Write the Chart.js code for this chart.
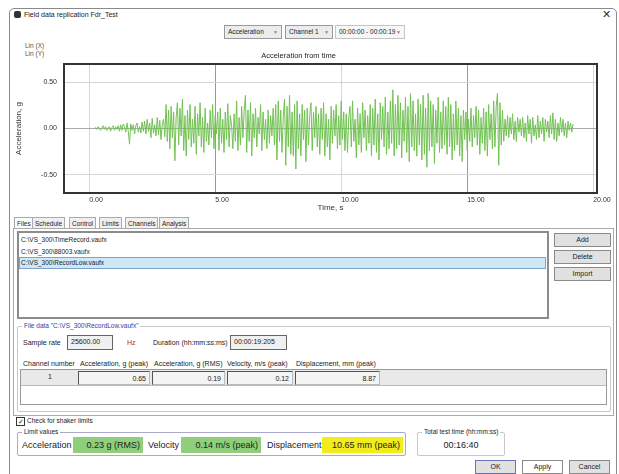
<!DOCTYPE html>
<html>
<head>
<meta charset="utf-8">
<script src="https://cdn.jsdelivr.net/npm/chart.js@4"></script>
<style>
  body { margin: 0; background: #fff; font-family: "Liberation Sans", Arial, sans-serif; font-size: 7px; color: #222; }
  #page { position: relative; width: 619px; height: 474px; overflow: hidden; }
  .a { position: absolute; white-space: nowrap; }
  .box { position: absolute; box-sizing: border-box; border: 1px solid #8c8c8c; background: #fff; }
  .btn { position: absolute; box-sizing: border-box; border: 1px solid #8a8a8a; background: #e1e1e1; text-align: center; line-height: 12px; }
  .drop { position: absolute; box-sizing: border-box; border: 1px solid #9a9a9a; background: #ececec; line-height: 12px; padding-left: 3px; font-size: 6.5px; }
  .drop span { position: absolute; right: 3px; color: #888; font-size: 5px; }
  .tab { position: absolute; top: 217px; height: 12px; box-sizing: border-box; border: 1px solid #aaa; border-bottom: none; background: #f0f0f0; line-height: 11px; padding: 0 2px; font-size: 6.5px; }
  .group { position: absolute; box-sizing: border-box; border: 1px solid #c8c8c8; border-radius: 2px; }
  .legend { position: absolute; top: -5px; left: 4px; background: #fff; padding: 0 2px; font-size: 6.5px; }
  .cell { position: absolute; box-sizing: border-box; border: 1px solid #555; border-right-color: #bbb; border-bottom-color: #bbb; background: #f4f4f4; text-align: right; padding-right: 3px; line-height: 13px; }
  .big { position: absolute; white-space: nowrap; font-size: 9px; }
  .lim { position: absolute; top: 437px; height: 16px; box-sizing: border-box; text-align: right; font-size: 9px; line-height: 16px; padding-right: 3px; }
</style>
</head>
<body>
<div id="page">
  <!-- dialog frame -->
  <div class="a" style="left:9px;top:8px;width:606px;height:470px;border:1px solid #8a8a8a;border-radius:5px;"></div>
  <div class="a" style="left:14px;top:11px;width:7px;height:7px;border-radius:2px;background:#333;"></div>
  <div class="a" style="left:24px;top:11px;">Field data replication Fdr_Test</div>
  <div class="a" style="left:602px;top:8px;font-size:11px;color:#333;">&#x2715;</div>

  <!-- selectors -->
  <div class="drop" style="left:224px;top:25px;width:58px;height:14px;">Acceleration<span>&#9660;</span></div>
  <div class="drop" style="left:285px;top:25px;width:48px;height:14px;">Channel 1<span>&#9660;</span></div>
  <div class="drop" style="left:335px;top:25px;width:70px;height:14px;background:#f7f7f7;border-color:#c4c4c4;">00:00:00 - 00:00:19<span>&#9660;</span></div>

  <div class="a" style="left:25px;top:42px;font-size:6.5px;color:#555;">Lin (X)</div>
  <div class="a" style="left:25px;top:50px;font-size:6.5px;color:#555;">Lin (Y)</div>

  <div class="a" style="left:0;top:45px;width:619px;height:168px;"><canvas id="accel"></canvas></div>

  <!-- tabs -->
  <div class="tab" style="left:14px;background:#fff;">Files</div>
  <div class="tab" style="left:32px;">Schedule</div>
  <div class="tab" style="left:69px;">Control</div>
  <div class="tab" style="left:99px;">Limits</div>
  <div class="tab" style="left:125px;">Channels</div>
  <div class="tab" style="left:159px;">Analysis</div>
  <div class="a" style="left:13px;top:228px;width:601px;height:188px;border:1px solid #aaa;box-sizing:border-box;"></div>

  <!-- file list -->
  <div class="box" style="left:17px;top:231px;width:532px;height:88px;border:2px solid #8c8c8c;"></div>
  <div class="a" style="left:21px;top:236px;font-size:6.5px;">C:\VS_300\TimeRecord.vaufx</div>
  <div class="a" style="left:21px;top:248px;font-size:6.5px;">C:\VS_300\88003.vaufx</div>
  <div class="a" style="left:19px;top:257px;width:527px;height:12px;background:#cde8f7;border:1px solid #7da2ce;box-sizing:border-box;"></div>
  <div class="a" style="left:21px;top:259px;font-size:6.5px;">C:\VS_300\RecordLow.vaufx</div>

  <div class="btn" style="left:554px;top:233px;width:57px;height:14px;">Add</div>
  <div class="btn" style="left:554px;top:250px;width:57px;height:14px;">Delete</div>
  <div class="btn" style="left:554px;top:267px;width:57px;height:14px;">Import</div>

  <!-- file data -->
  <div class="group" style="left:17px;top:326px;width:594px;height:86px;">
    <div class="legend" style="color:#3a3aa8;">File data "C:\VS_300\RecordLow.vaufx"</div>
  </div>
  <div class="a" style="left:23px;top:339px;">Sample rate</div>
  <div class="box" style="left:67px;top:335px;width:46px;height:15px;background:#f0f0f0;border:1px solid #666;padding:2px 3px;">25600.00</div>
  <div class="a" style="left:127px;top:339px;color:#a33;">Hz</div>
  <div class="a" style="left:153px;top:339px;">Duration (hh:mm:ss:ms)</div>
  <div class="box" style="left:230px;top:335px;width:57px;height:15px;background:#f0f0f0;border:1px solid #666;padding:2px 3px;">00:00:19:205</div>

  <div class="a" style="left:23px;top:360px;">Channel number</div>
  <div class="a" style="left:80px;top:360px;">Acceleration, g (peak)</div>
  <div class="a" style="left:154px;top:360px;">Acceleration, g (RMS)</div>
  <div class="a" style="left:227px;top:360px;">Velocity, m/s (peak)</div>
  <div class="a" style="left:296px;top:360px;">Displacement, mm (peak)</div>

  <div class="box" style="left:20px;top:369px;width:587px;height:36px;border:1px solid #999;"></div>
  <div class="a" style="left:21px;top:370px;width:585px;height:15px;background:#e9e9e9;border-bottom:1px solid #bbb;"></div>
  <div class="a" style="left:48px;top:373px;">1</div>
  <div class="cell" style="left:78px;top:371px;width:72px;height:14px;">0.65</div>
  <div class="cell" style="left:152px;top:371px;width:73px;height:14px;">0.19</div>
  <div class="cell" style="left:227px;top:371px;width:66px;height:14px;">0.12</div>
  <div class="cell" style="left:295px;top:371px;width:85px;height:14px;">8.87</div>

  <!-- limits -->
  <div class="a" style="left:16px;top:417px;width:7px;height:7px;border:1px solid #333;font-size:7px;line-height:7px;text-align:center;">&#10003;</div>
  <div class="a" style="left:27px;top:417px;font-size:6.5px;">Check for shaker limits</div>

  <div class="group" style="left:17px;top:432px;width:389px;height:24px;border-color:#aac;">
    <div class="legend">Limit values</div>
  </div>
  <div class="big" style="left:22px;top:440px;">Acceleration</div>
  <div class="lim" style="left:73px;width:70px;background:#8fcf7b;">0.23 g (RMS)</div>
  <div class="big" style="left:148px;top:440px;">Velocity</div>
  <div class="lim" style="left:181px;width:80px;background:#8fcf7b;">0.14 m/s (peak)</div>
  <div class="big" style="left:267px;top:440px;">Displacement</div>
  <div class="lim" style="left:322px;width:81px;background:#f2ec1a;">10.65 mm (peak)</div>

  <div class="group" style="left:417px;top:432px;width:88px;height:24px;">
    <div class="legend">Total test time (hh:mm:ss)</div>
  </div>
  <div class="big" style="left:417px;top:440px;width:88px;text-align:center;">00:16:40</div>

  <div class="btn" style="left:475px;top:460px;width:41px;height:14px;border-color:#6f6fb5;">OK</div>
  <div class="btn" style="left:522px;top:460px;width:41px;height:14px;background:#fff;">Apply</div>
  <div class="btn" style="left:569px;top:460px;width:41px;height:14px;">Cancel</div>
</div>

<script>
const timeStart = 0.2;
const timeStep = 0.05;
const accel = [
  0.00, 0.01, -0.01, 0.02, 0.00, -0.02, 0.01, 0.03, -0.01, 0.02, -0.02, 0.01, 0.02, -0.03, 0.01, 0.03, -0.02, 0.02, -0.01, 0.03,
  -0.03, 0.04, -0.02, 0.05, 0.02, -0.04, 0.06, -0.03, -0.17, 0.05, -0.02, 0.04, -0.06, 0.03, 0.06, -0.04, 0.02, -0.05, 0.07, -0.03,
  0.08, -0.06, 0.10, -0.03, 0.06, -0.10, 0.11, -0.05, 0.04, -0.08, 0.12, -0.07, 0.09, -0.12, 0.05, 0.10, -0.09, 0.26, -0.14, 0.20,
  -0.22, 0.24, -0.10, 0.18, -0.35, 0.12, 0.28, -0.18, 0.22, -0.08, 0.32, -0.24, 0.14, -0.30, 0.20, -0.12, 0.26, -0.20, 0.10, -0.16,
  0.24, -0.28, 0.16, -0.08, 0.28, -0.20, 0.12, -0.26, 0.22, -0.14, 0.06, -0.18, 0.20, -0.10, 0.26, -0.22, 0.14, -0.06, 0.18, -0.24,
  0.22, -0.16, 0.10, -0.26, 0.18, -0.12, 0.27, -0.20, 0.14, 0.04, -0.22, 0.16, -0.14, 0.30, -0.24, 0.12, -0.18, 0.24, -0.10, 0.20,
  0.36, -0.26, 0.20, -0.14, 0.28, -0.30, 0.16, -0.10, 0.22, -0.20, 0.12, -0.06, 0.26, -0.24, 0.18, -0.12, 0.10, -0.22, 0.20, -0.16,
  0.14, -0.08, 0.22, -0.18, 0.26, -0.34, 0.30, -0.14, 0.20, -0.26, 0.12, 0.32, -0.40, 0.24, -0.20, 0.36, -0.28, 0.18, -0.30, 0.26,
  -0.44, 0.30, -0.22, 0.16, -0.30, 0.26, -0.12, 0.20, -0.36, 0.22, -0.18, 0.14, 0.28, -0.24, 0.18, -0.10, 0.24, -0.20, 0.16, -0.28,
  0.22, -0.12, 0.28, -0.30, 0.16, -0.20, 0.10, -0.34, 0.24, -0.16, 0.20, -0.08, 0.26, -0.22, 0.14, -0.18, 0.30, -0.12, 0.18, -0.24,
  0.16, -0.26, 0.12, 0.24, -0.20, 0.30, -0.14, 0.10, -0.32, 0.22, -0.18, 0.16, -0.26, 0.28, -0.10, 0.20, -0.24, 0.14, -0.16, 0.26,
  -0.30, 0.22, -0.18, 0.32, -0.26, 0.16, -0.34, 0.28, -0.12, 0.24, -0.20, 0.34, -0.28, 0.18, -0.22, 0.30, -0.16, 0.42, -0.30, 0.26,
  -0.22, 0.36, -0.18, 0.28, -0.32, 0.20, -0.14, 0.34, -0.26, 0.24, -0.36, 0.38, -0.20, 0.30, -0.24, 0.16, -0.30, 0.32, -0.18, 0.26,
  -0.34, 0.36, -0.28, 0.22, -0.42, 0.38, -0.24, 0.30, -0.20, 0.26, -0.38, 0.20, -0.16, 0.34, -0.26, 0.18, -0.22, 0.30, -0.18, 0.24,
  -0.28, 0.34, -0.20, 0.26, -0.34, 0.16, -0.24, 0.30, -0.18, 0.22, -0.30, 0.14, -0.36, 0.20, -0.12, 0.18, -0.24, 0.10, -0.14, 0.22,
  -0.20, 0.14, -0.10, 0.24, -0.18, 0.20, -0.28, 0.12, -0.16, 0.22, -0.24, 0.18, -0.30, 0.26, -0.12, 0.16, -0.22, 0.30, -0.20, 0.24,
  0.38, -0.40, 0.28, -0.18, 0.20, -0.14, 0.10, -0.08, 0.14, -0.10, 0.12, -0.06, 0.16, -0.12, 0.08, -0.14, 0.12, -0.04, 0.10, -0.08,
  0.12, -0.10, 0.06, -0.14, 0.14, -0.06, 0.10, -0.16, 0.12, -0.08, 0.04, -0.12, 0.14, -0.10, 0.08, -0.06, 0.12, -0.14, 0.10, -0.04,
  0.08, -0.10, 0.14, -0.06, 0.17, -0.12, 0.10, -0.14, 0.06, -0.08, 0.12, -0.04, 0.10, -0.08, 0.06, -0.10, 0.08, -0.02, 0.06, -0.04,
  0.05
];
const xTicks = [0, 5, 10, 15, 20];
const yTicks = [-0.5, 0, 0.5];

const points = accel.map((v, i) => ({ x: timeStart + i * timeStep, y: v }));

// dark frame round the plot area
const frame = {
  id: 'frame',
  afterDraw(chart) {
    const { ctx, chartArea: a } = chart;
    ctx.save();
    ctx.strokeStyle = '#333';
    ctx.lineWidth = 2;
    ctx.strokeRect(a.left, a.top, a.right - a.left, a.bottom - a.top);
    ctx.restore();
  }
};

const font = { family: 'Liberation Sans, Arial, sans-serif', size: 7 };

new Chart(document.getElementById('accel'), {
  type: 'line',
  data: {
    datasets: [{
      data: points,
      borderColor: '#72c254',
      borderWidth: 1,
      pointRadius: 0,
      tension: 0
    }]
  },
  options: {
    responsive: true,
    maintainAspectRatio: false,
    animation: false,
    layout: { padding: { left: 0, right: 22, top: 0, bottom: 0 } },
    plugins: {
      legend: { display: false },
      tooltip: { enabled: false },
      title: {
        display: true,
        text: 'Acceleration from time',
        color: '#222',
        font: { ...font, size: 7.5, weight: 'normal' },
        padding: { top: 6, bottom: 4 }
      }
    },
    scales: {
      x: {
        type: 'linear',
        min: -1,
        max: 20.15,
        afterBuildTicks: s => { s.ticks = xTicks.map(v => ({ value: v })); },
        afterFit: s => { s.height = 20; },
        ticks: {
          align: 'start',
          padding: 3,
          color: '#333',
          font,
          callback: v => v.toFixed(2)
        },
        grid: {
          drawTicks: false,
          color: c => (c.tick && (c.tick.value === 5 || c.tick.value === 15)) ? '#999' : '#d6d6d6'
        },
        border: { display: false },
        title: { display: true, text: 'Time, s', color: '#333', font: { ...font, size: 8 }, padding: { top: 0, bottom: 0 } }
      },
      y: {
        min: -0.7,
        max: 0.7,
        afterBuildTicks: s => { s.ticks = yTicks.map(v => ({ value: v })); },
        afterFit: s => { s.width = 64; },
        ticks: {
          padding: 7,
          color: '#333',
          font,
          callback: v => v.toFixed(2)
        },
        grid: {
          drawTicks: false,
          color: c => (c.tick && c.tick.value === 0) ? '#aaa' : '#d6d6d6'
        },
        border: { display: false },
        title: { display: true, text: 'Acceleration, g', color: '#333', font: { ...font, size: 8 }, padding: { top: 14, bottom: 0 } }
      }
    }
  },
  plugins: [frame]
});
</script>
</body>
</html>
